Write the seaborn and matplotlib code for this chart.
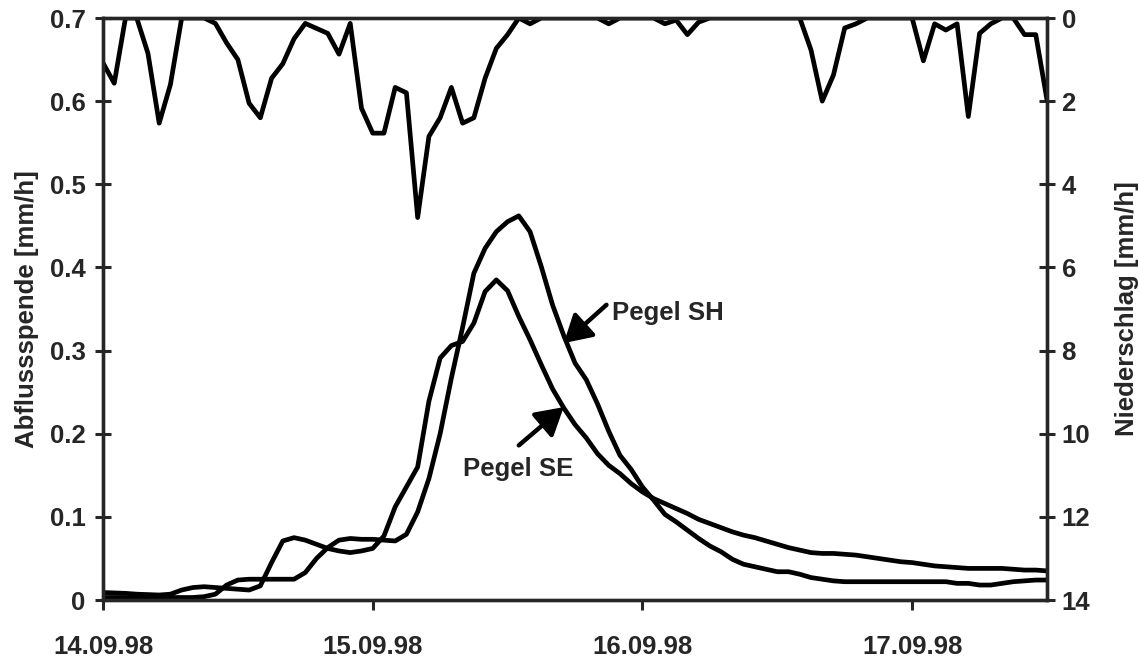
"""Abflussspende und Niederschlag, 14.-17.09.1998."""

import matplotlib

matplotlib.use("Agg")

import matplotlib.dates as mdates
import matplotlib.pyplot as plt
import pandas as pd
import seaborn as sns

# hourly values, starting 14.09.98 00:00
niederschlag = [
    1.08, 1.57, 0.0, 0.0, 0.85, 2.53, 1.6, 0.0, 0.0, 0.0,
    0.13, 0.6, 1.0, 2.05, 2.4, 1.45, 1.1, 0.5, 0.13, 0.25,
    0.37, 0.87, 0.13, 2.17, 2.77, 2.77, 1.67, 1.8, 4.8, 2.85,
    2.4, 1.67, 2.53, 2.4, 1.45, 0.73, 0.4, 0.0, 0.14, 0.0,
    0.0, 0.0, 0.0, 0.0, 0.0, 0.14, 0.0, 0.0, 0.0, 0.0,
    0.14, 0.05, 0.4, 0.1, 0.0, 0.0, 0.0, 0.0, 0.0, 0.0,
    0.0, 0.0, 0.0, 0.77, 2.0, 1.37, 0.24, 0.14, 0.0, 0.0,
    0.0, 0.0, 0.0, 1.03, 0.14, 0.29, 0.14, 2.37, 0.37, 0.14,
    0.0, 0.0, 0.4, 0.4, 1.97,
]
pegel_se = [
    0.009, 0.0085, 0.008, 0.007, 0.0065, 0.006, 0.007, 0.012, 0.015, 0.016,
    0.015, 0.014, 0.013, 0.012, 0.017, 0.045, 0.071, 0.075, 0.072, 0.067,
    0.062, 0.059, 0.057, 0.059, 0.062, 0.077, 0.112, 0.136, 0.160, 0.239,
    0.291, 0.306, 0.311, 0.333, 0.371, 0.385, 0.372, 0.341, 0.313, 0.283,
    0.254, 0.231, 0.211, 0.195, 0.176, 0.162, 0.152, 0.140, 0.130, 0.122,
    0.116, 0.110, 0.104, 0.097, 0.092, 0.087, 0.082, 0.078, 0.075, 0.071,
    0.067, 0.063, 0.060, 0.057, 0.056, 0.056, 0.055, 0.054, 0.052, 0.050,
    0.048, 0.046, 0.045, 0.043, 0.041, 0.040, 0.039, 0.038, 0.038, 0.038,
    0.038, 0.037, 0.036, 0.036, 0.035,
]
pegel_sh = [
    0.003, 0.003, 0.003, 0.003, 0.003, 0.003, 0.003, 0.003, 0.003, 0.004,
    0.007, 0.018, 0.024, 0.025, 0.025, 0.025, 0.025, 0.025, 0.033, 0.050,
    0.063, 0.072, 0.074, 0.073, 0.073, 0.072, 0.071, 0.079, 0.106, 0.146,
    0.200, 0.267, 0.328, 0.393, 0.423, 0.443, 0.455, 0.462, 0.443, 0.401,
    0.355, 0.318, 0.285, 0.265, 0.236, 0.203, 0.174, 0.157, 0.136, 0.120,
    0.103, 0.094, 0.084, 0.074, 0.065, 0.058, 0.049, 0.043, 0.040, 0.037,
    0.034, 0.034, 0.031, 0.027, 0.025, 0.023, 0.022, 0.022, 0.022, 0.022,
    0.022, 0.022, 0.022, 0.022, 0.022, 0.022, 0.020, 0.020, 0.018, 0.018,
    0.020, 0.022, 0.023, 0.024, 0.024,
]
date_ticks = ["1998-09-14", "1998-09-15", "1998-09-16", "1998-09-17"]

zeit = pd.date_range("1998-09-14", periods=len(niederschlag), freq="h")
df = pd.DataFrame(
    {"zeit": zeit, "SE": pegel_se, "SH": pegel_sh, "N": niederschlag}
)

sns.set_style("ticks")
plt.rcParams["font.family"] = ["Liberation Sans", "DejaVu Sans"]
plt.rcParams["font.weight"] = "bold"
plt.rcParams["axes.linewidth"] = 2.4

FS = 18.5
LW = 3.4

fig = plt.figure(figsize=(11.4, 6.57), dpi=100)
ax = fig.add_axes([103 / 1140, 1 - 600 / 657, 944 / 1140, 582 / 657])
ax2 = ax.twinx()

sns.lineplot(data=df, x="zeit", y="SE", ax=ax, color="black", linewidth=LW)
sns.lineplot(data=df, x="zeit", y="SH", ax=ax, color="black", linewidth=LW)
sns.lineplot(data=df, x="zeit", y="N", ax=ax2, color="black", linewidth=LW)

ax.set_xlim(zeit[0], zeit[-1])
ax.set_ylim(0, 0.7)
ax.set_yticks([0, 0.1, 0.2, 0.3, 0.4, 0.5, 0.6, 0.7])
ax.set_yticklabels(["0", "0.1", "0.2", "0.3", "0.4", "0.5", "0.6", "0.7"])
ax2.set_ylim(14, 0)
ax2.set_yticks(range(0, 15, 2))

ax.set_xticks(pd.to_datetime(date_ticks))
ax.xaxis.set_major_formatter(mdates.DateFormatter("%d.%m.%y"))

ax.tick_params(axis="x", direction="out", length=7, width=2.2, pad=18, labelsize=FS)
ax.tick_params(axis="y", direction="inout", length=11, width=2.2, pad=7, labelsize=FS)
ax2.tick_params(axis="y", direction="inout", length=11, width=2.2, pad=5, labelsize=FS)

ax.set_xlabel("")
ax.set_ylabel("Abflussspende [mm/h]", fontsize=FS, fontweight="bold", labelpad=8)
ax2.set_ylabel("Niederschlag [mm/h]", fontsize=FS, fontweight="bold", labelpad=18)

for spine in ax.spines.values():
    spine.set_visible(True)
for spine in ax2.spines.values():
    spine.set_visible(True)

# arrows and labels for the two gauges
t = lambda h: zeit[0] + pd.Timedelta(hours=h)
pfeil = dict(arrowstyle="-|>,head_length=0.55,head_width=0.32", color="black",
             lw=3.2, shrinkA=0, shrinkB=0, mutation_scale=30)
ax.annotate("", xy=(t(41.0), 0.309), xytext=(t(44.8), 0.355), arrowprops=pfeil)
ax.annotate("", xy=(t(41.0), 0.232), xytext=(t(37.0), 0.186), arrowprops=pfeil)
ax.text(t(45.3), 0.345, "Pegel SH", fontsize=FS, fontweight="bold",
        va="center", ha="left")
ax.text(t(32.0), 0.157, "Pegel SE", fontsize=FS, fontweight="bold",
        va="center", ha="left")

fig.savefig("out.png", dpi=100)
